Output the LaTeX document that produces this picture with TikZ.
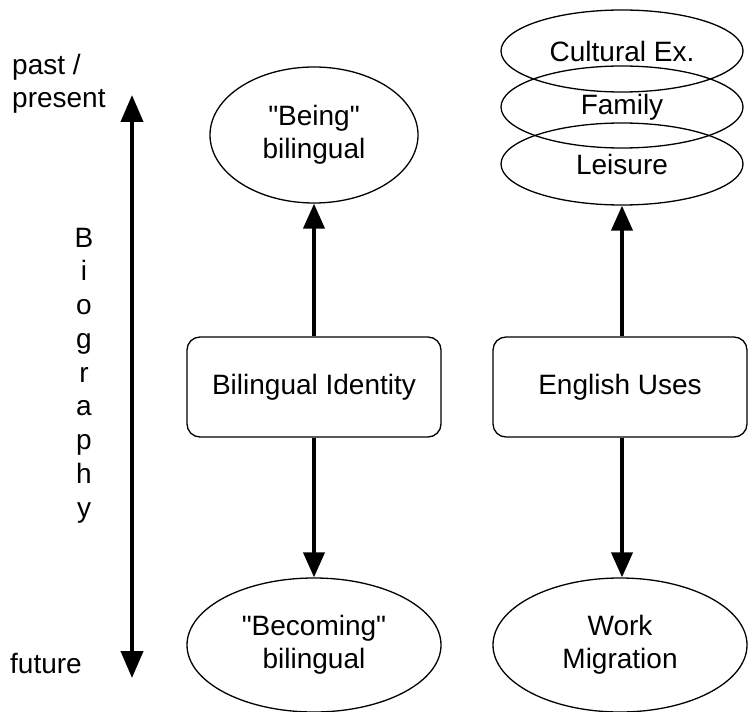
\documentclass[tikz,border=0pt]{standalone}
\usepackage{fontspec}
\setmainfont{Liberation Sans}
\usetikzlibrary{arrows.meta,shapes.geometric}
\begin{document}
\begin{tikzpicture}[x=1pt, y=-1pt,
    every node/.style={font=\fontsize{28}{33}\selectfont, inner sep=0pt},
    oval/.style={draw, ellipse, line width=1.3pt, minimum width=254pt, minimum height=134pt, align=center},
    ring/.style={draw, ellipse, line width=1.3pt, minimum width=242pt, minimum height=82pt},
    box/.style={draw, rounded corners=13pt, line width=1.3pt, minimum width=254pt, minimum height=100pt},
    flow/.style={line width=4pt, -{Triangle[length=25pt,width=21pt]}}]
  \useasboundingbox (0,0) rectangle (751,711);
  % time axis
  \node[anchor=north west, align=left] (past) at (12,54) {past /\\present};
  \node[anchor=base west] (fut) at (10,673) {future};
  \coordinate (top) at (132,95);
  \coordinate (bot) at (132,678);
  \draw [line width=4pt, {Triangle[length=27pt,width=22pt]}-{Triangle[length=27pt,width=22pt]}] (top) -- (bot);
  \foreach \ch [count=\i from 0] in {B,i,o,g,r,a,p,h,y}
    \node[anchor=base] (bio\i) at (84, 247+33.75*\i) {\ch};
  % identity column
  \node[oval, minimum width=208pt, minimum height=136pt] (being) at (314,135) {\textquotedbl Being\textquotedbl\\bilingual};
  \node[box] (ident) at (314,387) {Bilingual Identity};
  \node[oval] (becoming) at (314,645) {\textquotedbl Becoming\textquotedbl\\bilingual};
  \draw [flow] (ident) -- (being);
  \draw [flow] (ident) -- (becoming);
  % uses column
  \node[ring] (culture) at (622,51) {Cultural Ex.};
  \node[ring] (family) at (622,107) {Family};
  \node[ring] (leisure) at (622,164) {Leisure};
  \node[box] (uses) at (620,387) {English Uses};
  \node[oval] (work) at (620,645) {Work\\Migration};
  \draw [flow] (uses.north -| leisure) -- (leisure);
  \draw [flow] (uses.south -| leisure) -- (work.north -| leisure);
\end{tikzpicture}
\end{document}
